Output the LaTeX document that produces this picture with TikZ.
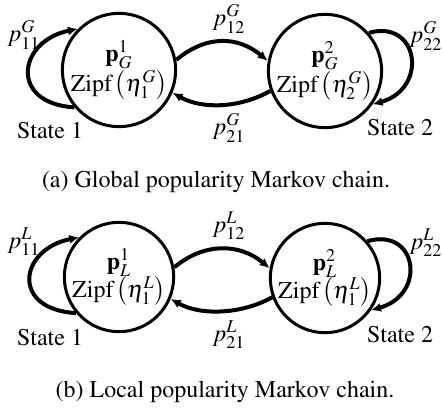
\documentclass[tikz,border=0pt]{standalone}
\usepackage[T1]{fontenc}
\usepackage{mathptmx}
\usetikzlibrary{arrows.meta}
\begin{document}
\begin{tikzpicture}[x=0.5pt,y=-0.5pt,
 state/.style={circle,draw,line width=1.5pt,minimum size=54pt,inner sep=0pt,align=center,font=\fontsize{12}{14}\selectfont},
 trans/.style={line width=2pt,-{Latex[length=5pt,width=4.5pt]}},
 lab/.style={font=\fontsize{12}{14}\selectfont,inner sep=0pt},
]
\useasboundingbox (0,0) rectangle (442,413);
% ---------- (a) ----------
\node[state] (g1) at (119,70) {$\mathbf{p}_G^1$\\Zipf$\,\left(\eta_1^G\right)$};
\node[state] (g2) at (325,71) {$\mathbf{p}_G^2$\\Zipf$\,\left(\eta_2^G\right)$};
\draw[trans] (g1.220) .. controls +(-66,-4) and +(-60,12) .. (g1.135);
\draw[trans] (g2.41) .. controls +(50,-14) and +(56,-16) .. (g2.-35);
\draw[trans] (g1.10) .. controls +(30,-25) and +(-30,-25) .. (g2.170);
\draw[trans] (g2.-160) .. controls +(-30,17) and +(30,17) .. (g1.-23);
\node[lab] (lg11) at (24,35) {$p_{11}^G$};
\node[lab] (lg12) at (229,19) {$p_{12}^G$};
\node[lab] (lg21) at (229,128) {$p_{21}^G$};
\node[lab] (lg22) at (426,36) {$p_{22}^G$};
\node[lab] (sg1) at (50,130) {State 1};
\node[lab] (sg2) at (400,127) {State 2};
\node[lab] (capa) at (216,182) {(a) Global popularity Markov chain.};
% ---------- (b) ----------
\node[state] (l1) at (119,277) {$\mathbf{p}_L^1$\\Zipf$\,\left(\eta_1^L\right)$};
\node[state] (l2) at (325,278) {$\mathbf{p}_L^2$\\Zipf$\,\left(\eta_1^L\right)$};
\draw[trans] (l1.220) .. controls +(-66,-4) and +(-60,12) .. (l1.135);
\draw[trans] (l2.41) .. controls +(50,-14) and +(56,-16) .. (l2.-35);
\draw[trans] (l1.10) .. controls +(30,-25) and +(-30,-25) .. (l2.170);
\draw[trans] (l2.-160) .. controls +(-30,17) and +(30,17) .. (l1.-23);
\node[lab] (ll11) at (24,242) {$p_{11}^L$};
\node[lab] (ll12) at (229,226) {$p_{12}^L$};
\node[lab] (ll21) at (229,335) {$p_{21}^L$};
\node[lab] (ll22) at (426,243) {$p_{22}^L$};
\node[lab] (sl1) at (50,337) {State 1};
\node[lab] (sl2) at (400,334) {State 2};
\node[lab] (capb) at (225,392) {(b) Local popularity Markov chain.};
\end{tikzpicture}
\end{document}
